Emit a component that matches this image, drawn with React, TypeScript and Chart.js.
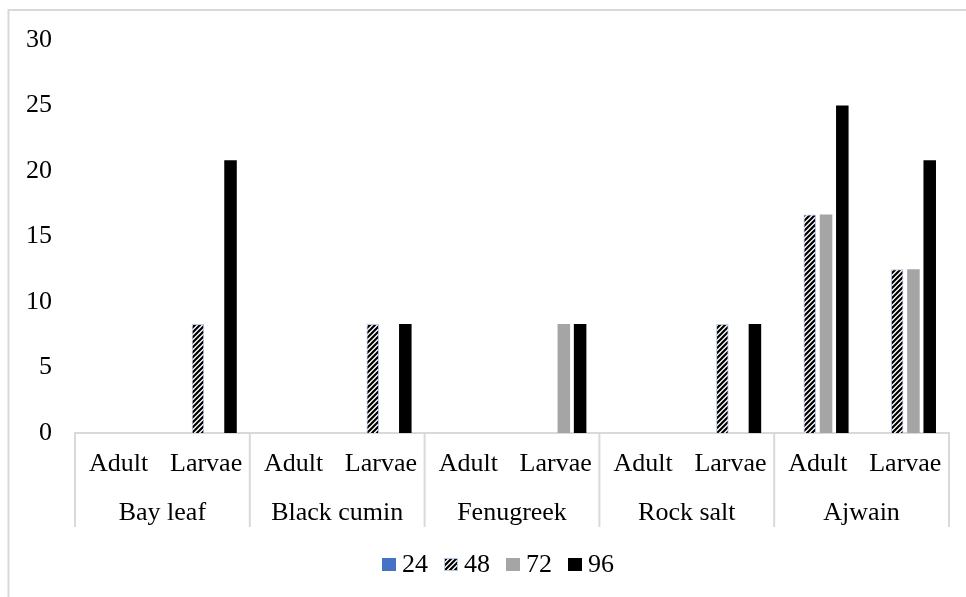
import React, { useEffect, useRef } from 'react';
import { Chart, registerables } from 'chart.js';

Chart.register(...registerables);

const groups = ['Bay leaf', 'Black cumin', 'Fenugreek', 'Rock salt', 'Ajwain'];
const stages = ['Adult', 'Larvae'];
const categories = groups.flatMap(() => stages);
const seriesLabels = ['24', '48', '72', '96'];
const values24 = [0, 0, 0, 0, 0, 0, 0, 0, 0, 0];
const values48 = [0, 8.33, 0, 8.33, 0, 0, 0, 8.33, 16.67, 12.5];
const values72 = [0, 0, 0, 0, 0, 8.33, 0, 0, 16.67, 12.5];
const values96 = [0, 20.83, 0, 8.33, 0, 8.33, 0, 8.33, 25, 20.83];
const yMin = 0;
const yMax = 30;
const yStep = 5;

const FONT = '"Liberation Serif", "Times New Roman", serif';
const FONT_SIZE = 26;
const LINE = '#d9d9d9';

function makeHatch(): CanvasPattern | string {
  const s = 5;
  const c = document.createElement('canvas');
  c.width = s;
  c.height = s;
  const g = c.getContext('2d');
  if (!g) return '#000';
  g.fillStyle = '#fff';
  g.fillRect(0, 0, s, s);
  g.strokeStyle = '#000';
  g.lineWidth = 2.2;
  g.beginPath();
  for (const o of [-s, 0, s]) {
    g.moveTo(o - 1, s + 1);
    g.lineTo(o + s + 1, -1);
  }
  g.stroke();
  return g.createPattern(c, 'repeat') || '#000';
}

const decorPlugin = {
  id: 'decor',
  afterDraw(chart: any) {
    const { ctx, chartArea, scales } = chart;
    const x = scales.x;
    ctx.save();
    // outer frame
    ctx.strokeStyle = LINE;
    ctx.lineWidth = 2;
    ctx.beginPath();
    ctx.moveTo(8.5, chart.height);
    ctx.lineTo(8.5, 10);
    ctx.lineTo(chart.width, 10);
    ctx.stroke();

    // group separators
    const half = (x.getPixelForValue(1) - x.getPixelForValue(0)) / 2;
    const sepBottom = chartArea.bottom + 94;
    ctx.beginPath();
    for (let gi = 0; gi <= groups.length; gi++) {
      const px = gi < groups.length
        ? x.getPixelForValue(gi * 2) - half
        : x.getPixelForValue(groups.length * 2 - 1) + half;
      ctx.moveTo(px, chartArea.bottom);
      ctx.lineTo(px, sepBottom);
    }
    ctx.stroke();

    // group labels
    ctx.fillStyle = '#000';
    ctx.font = `${FONT_SIZE}px ${FONT}`;
    ctx.textAlign = 'center';
    ctx.textBaseline = 'alphabetic';
    groups.forEach((g, i) => {
      const cx = (x.getPixelForValue(2 * i) + x.getPixelForValue(2 * i + 1)) / 2;
      ctx.fillText(g, cx, chartArea.bottom + 87);
    });

    // legend
    const box = 14;
    const gapText = 6;
    const gapItem = 16;
    const widths = chart.data.datasets.map((d: any) => ctx.measureText(d.label).width);
    const total = widths.reduce((a: number, w: number) => a + box + gapText + w, 0) + gapItem * (widths.length - 1);
    let lx = 498 - total / 2;
    const baseY = chartArea.bottom + 139;
    ctx.textAlign = 'left';
    chart.data.datasets.forEach((d: any, i: number) => {
      ctx.fillStyle = d.backgroundColor;
      ctx.fillRect(lx, baseY - 14, box, box - 1);
      if (d.borderColor && d.borderColor !== d.backgroundColor) {
        ctx.strokeStyle = d.borderColor;
        ctx.lineWidth = 1;
        ctx.strokeRect(lx + 0.5, baseY - 13.5, box - 1, box - 2);
      }
      ctx.fillStyle = '#000';
      ctx.fillText(d.label, lx + box + gapText, baseY);
      lx += box + gapText + widths[i] + gapItem;
    });
    ctx.restore();
  },
};

export default function App() {
  const ref = useRef<HTMLCanvasElement | null>(null);

  useEffect(() => {
    if (!ref.current) return;
    const hatch = makeHatch();
    const bw = (ctx: any) => (ctx.raw ? 1 : 0);
    const chart = new Chart(ref.current, {
      type: 'bar',
      data: {
        labels: categories,
        datasets: [
          { label: seriesLabels[0], data: values24, backgroundColor: '#4472c4', borderWidth: 0 },
          { label: seriesLabels[1], data: values48, backgroundColor: hatch as any, borderColor: '#b4c7e7', borderWidth: bw },
          { label: seriesLabels[2], data: values72, backgroundColor: '#a5a5a5', borderWidth: 0 },
          { label: seriesLabels[3], data: values96, backgroundColor: '#000000', borderWidth: 0 },
        ],
      },
      options: {
        animation: false,
        responsive: true,
        maintainAspectRatio: false,
        layout: { padding: { left: 10, right: 17, top: 40, bottom: 0 } },
        datasets: { bar: { categoryPercentage: 0.745, barPercentage: 0.77 } },
        plugins: { legend: { display: false }, tooltip: { enabled: false } },
        scales: {
          x: {
            grid: { display: false, drawTicks: false },
            border: { display: true, color: LINE, width: 2 },
            ticks: { color: '#000', font: { family: FONT, size: FONT_SIZE }, padding: 16, maxRotation: 0, autoSkip: false },
            afterFit: (s: any) => { s.height = 164; },
          },
          y: {
            min: yMin,
            max: yMax,
            grid: { display: false, drawTicks: false },
            border: { display: false },
            ticks: { stepSize: yStep, color: '#000', font: { family: FONT, size: FONT_SIZE }, padding: 23 },
            afterFit: (s: any) => { s.width = 65; },
          },
        },
      },
      plugins: [decorPlugin],
    });
    return () => chart.destroy();
  }, []);

  return (
    <div style={{ position: 'absolute', left: 0, top: 0, width: 966, height: 597, background: '#fff' }}>
      <canvas ref={ref} />
    </div>
  );
}
